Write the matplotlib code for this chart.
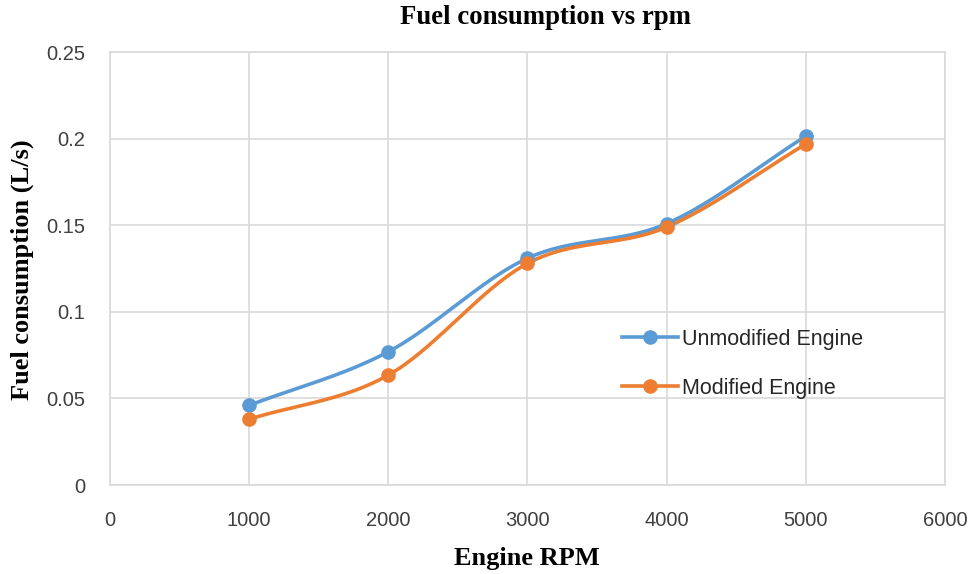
import numpy as np
import matplotlib
matplotlib.use('Agg')
import matplotlib.pyplot as plt

# -----------------------------------------------------------------------------
# data
rpm = [1000, 2000, 3000, 4000, 5000]
unmodified = [0.046, 0.077, 0.131, 0.151, 0.2015]
modified = [0.038, 0.0635, 0.128, 0.149, 0.197]

BLUE = '#5b9bd5'
ORANGE = '#ed7d31'
# -----------------------------------------------------------------------------

def smooth(x, y, n=40):
    # catmull-rom style curve, roughly what excel's "smoothed line" draws
    x = np.asarray(x, float)
    y = np.asarray(y, float)
    px = np.concatenate([[2 * x[0] - x[1]], x, [2 * x[-1] - x[-2]]])
    py = np.concatenate([[2 * y[0] - y[1]], y, [2 * y[-1] - y[-2]]])
    xs, ys = [], []
    t = np.linspace(0, 1, n)
    for i in range(1, len(px) - 2):
        for p, out in ((px, xs), (py, ys)):
            p0, p1, p2, p3 = p[i - 1], p[i], p[i + 1], p[i + 2]
            out.append(0.5 * (2 * p1 + (-p0 + p2) * t
                              + (2 * p0 - 5 * p1 + 4 * p2 - p3) * t ** 2
                              + (-p0 + 3 * p1 - 3 * p2 + p3) * t ** 3))
    return np.concatenate(xs), np.concatenate(ys)

W, H = 976, 574
fig = plt.figure(figsize=(W / 100, H / 100), dpi=100)
ax = fig.add_axes([0.1127, 0.155, 0.8555, 0.754])

for y, c, lab in ((unmodified, BLUE, 'Unmodified Engine'), (modified, ORANGE, 'Modified Engine')):
    sx, sy = smooth(rpm, y)
    ax.plot(sx, sy, color=c, lw=2.6, solid_capstyle='round', zorder=3)
    ax.plot(rpm, y, 'o', color=c, ms=9.5, zorder=4)
    ax.plot([], [], '-o', color=c, lw=2.6, ms=9.5, label=lab)

ax.set_xlim(0, 6000)
ax.set_ylim(0, 0.25)
ax.set_xticks(range(0, 6001, 1000))
ax.set_yticks([0, 0.05, 0.1, 0.15, 0.2, 0.25])
ax.set_yticklabels(['0', '0.05', '0.1', '0.15', '0.2', '0.25'])
ax.grid(True, color='#d9d9d9', lw=1.2)
ax.set_axisbelow(True)
for s in ax.spines.values():
    s.set_color('#d9d9d9')
    s.set_linewidth(1.2)
ax.tick_params(axis='x', length=0, pad=18.5, labelsize=14.5, labelcolor='#404040')
ax.tick_params(axis='y', length=0, pad=18, labelsize=14.5, labelcolor='#404040')
for lbl in ax.get_xticklabels() + ax.get_yticklabels():
    lbl.set_family('Liberation Sans')

# titles placed by pixel position so they stay inside the canvas
serif = dict(family='Liberation Serif', weight='bold', ha='center', va='center')
fig.text(545 / W, 1 - 18 / H, 'Fuel consumption vs rpm', fontsize=19.3, **serif)
fig.text(527 / W, 1 - 558 / H, 'Engine RPM', fontsize=19, **serif)
fig.text(22 / W, 1 - 270 / H, 'Fuel consumption (L/s)', fontsize=19, rotation=90, **serif)

leg = ax.legend(loc='center left', bbox_to_anchor=(0.59, 0.28), frameon=False,
                prop={'family': 'Liberation Sans', 'size': 15.5}, labelspacing=1.3,
                handlelength=2.6, handletextpad=0.2)
for t in leg.get_texts():
    t.set_color('#262626')

fig.savefig('out.png', dpi=100)
